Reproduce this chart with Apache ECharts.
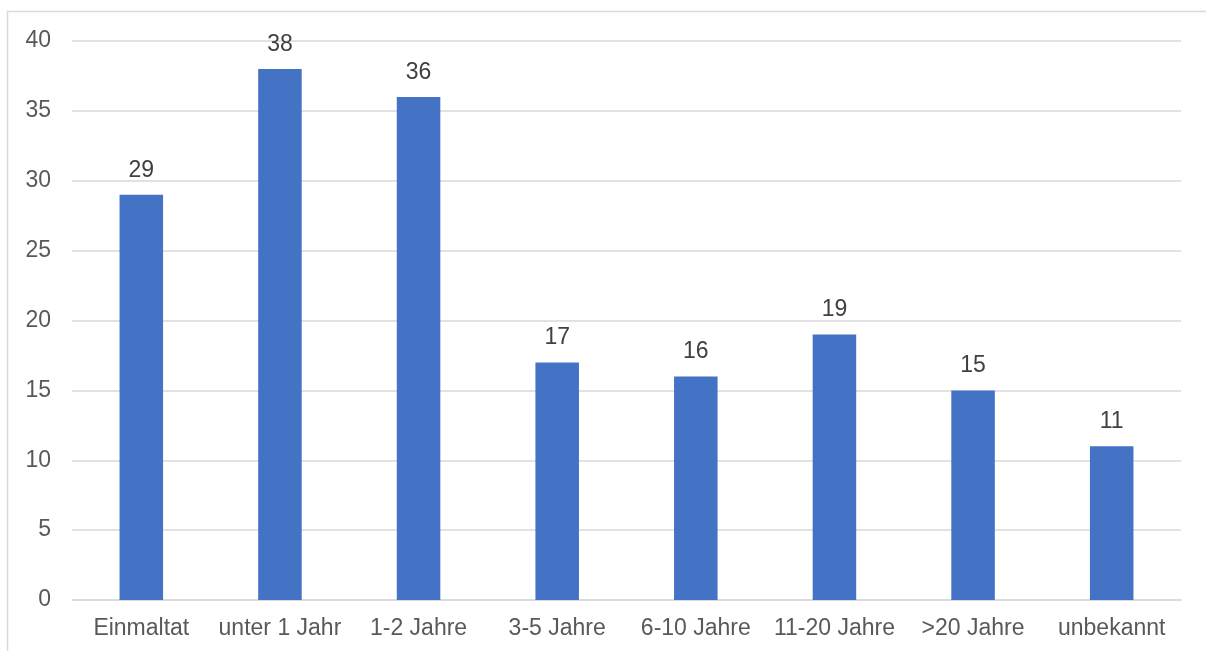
<!DOCTYPE html>
<html><head><meta charset="utf-8">
<script src="https://cdn.jsdelivr.net/npm/echarts@6/dist/echarts.min.js"></script>
<style>html,body{margin:0;padding:0;background:#fff}#c{width:1206px;height:651px}</style>
</head><body><div id="c"></div>
<script>
const categories = ['Einmaltat','unter 1 Jahr','1-2 Jahre','3-5 Jahre','6-10 Jahre','11-20 Jahre','>20 Jahre','unbekannt'];
const values = [29,38,36,17,16,19,15,11];
const yTicks = {min:0,max:40,interval:5};
const chart = echarts.init(document.getElementById('c'));
const ff = 'Liberation Sans, Arial';
chart.setOption({
  animation:false,
  backgroundColor:'#fff',
  graphic:[{type:'rect',shape:{x:7.5,y:11.5,width:1400,height:800},style:{fill:'none',stroke:'#d9d9d9',lineWidth:1.5},silent:true}],
  grid:{left:72,right:25,top:41,bottom:51},
  xAxis:{type:'category',data:categories,
    axisLine:{lineStyle:{color:'#d9d9d9',width:1.5}},axisTick:{show:false},
    axisLabel:{color:'#595959',fontFamily:ff,fontSize:23,margin:17,interval:0}},
  yAxis:{type:'value',min:yTicks.min,max:yTicks.max,interval:yTicks.interval,
    axisLine:{show:false},axisTick:{show:false},
    splitLine:{lineStyle:{color:'#d9d9d9',width:1.5}},
    axisLabel:{color:'#595959',fontFamily:ff,fontSize:23,margin:21}},
  series:[{type:'bar',data:values,barWidth:'31.4%',itemStyle:{color:'#4472C4'},
    label:{show:true,position:'top',distance:13,color:'#404040',fontFamily:ff,fontSize:23}}]
});
</script></body></html>
